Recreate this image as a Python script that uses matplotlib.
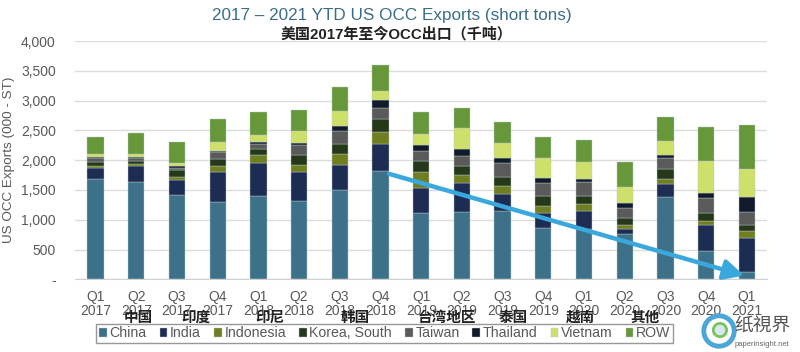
import numpy as np
import matplotlib
matplotlib.use('Agg')
import matplotlib.pyplot as plt

plt.rcParams['font.family'] = ['Liberation Sans', 'Noto Sans CJK SC', 'DejaVu Sans']

############### dados
quarters = ['Q1\n2017', 'Q2\n2017', 'Q3\n2017', 'Q4\n2017',
            'Q1\n2018', 'Q2\n2018', 'Q3\n2018', 'Q4\n2018',
            'Q1\n2019', 'Q2\n2019', 'Q3\n2019', 'Q4\n2019',
            'Q1\n2020', 'Q2\n2020', 'Q3\n2020', 'Q4\n2020',
            'Q1\n2021']

china     = [1688, 1632, 1414, 1297, 1398, 1314, 1498, 1822, 1107, 1129, 1150,  855,  839,  755, 1386,  481,  117]
india     = [ 185,  263,  252,  503,  547,  486,  414,  442,  419,  492,  290,  263,  307,   89,  207,  425,  582]
indonesia = [  33,   34,   56,  101,  134,  123,  184,  207,  280,  134,  131,  112,  117,   62,   90,   72,  112]
korea     = [  67,   50,  112,  117,  112,  156,  168,  212,  178,  151,  140,  173,  135,  117,  162,  129,   95]
taiwan    = [  62,   50,   39,  117,   73,  174,  224,  185,  174,  162,  246,  218,  229,  179,  184,  263,  229]
thailand  = [  22,   28,   33,   23,   45,   39,   89,  134,   89,  112,   72,   84,   50,   73,   56,   83,  251]
vietnam   = [  39,   45,   51,  139,  111,  190,  246,  156,  190,  352,  263,  335,  296,  268,  240,  531,  459]
row       = [ 297,  346,  352,  397,  392,  358,  397,  436,  375,  341,  352,  353,  364,  430,  392,  576,  743]

series = ['China', 'India', 'Indonesia', 'Korea, South', 'Taiwan', 'Thailand', 'Vietnam', 'ROW']
nomes_cn = ['中国', '印度', '印尼', '韩国', '台湾地区', '泰国', '越南', '其他']
cores = ['#3d7189', '#1d2c52', '#6f7e20', '#25391a', '#5a5a5a', '#111b2c', '#cfe06a', '#66983a']
valores = [china, india, indonesia, korea, taiwan, thailand, vietnam, row]

fig = plt.figure(figsize=(8, 3.52), dpi=100)
ax = fig.add_axes([0.094, 0.2065, 0.865, 0.677])

x = np.arange(len(quarters))
base = np.zeros(len(quarters))
for v, c, n in zip(valores, cores, series):
    v = np.array(v)
    ax.bar(x, v, 0.4, bottom=base, color=c, label=n, edgecolor='#b8c8c8', linewidth=0.3, zorder=2)
    base = base + v

ax.set_xlim(-0.5, 16.5)
ax.set_ylim(0, 4000)
ax.set_yticks(range(0, 4001, 500))
ax.set_yticklabels(['-'] + ['{:,}'.format(t) for t in range(500, 4001, 500)])
ax.set_xticks(x)
ax.set_xticklabels(quarters, linespacing=1.0)
ax.tick_params(axis='both', length=0, colors='#595959', labelsize=10)
ax.tick_params(axis='y', pad=14)
ax.tick_params(axis='x', pad=8)
ax.grid(axis='y', color='#dcdcdc', linewidth=1, zorder=0)
for s in ['left', 'right', 'top']:
    ax.spines[s].set_visible(False)
ax.spines['bottom'].set_color('#d0d0d0')
ax.set_ylabel('US OCC Exports (000 - ST)', color='#595959', fontsize=9.7, labelpad=4)

# seta de tendencia
ax.annotate('', xy=(16.0, 50), xytext=(7.15, china[7] - 40),
            arrowprops=dict(arrowstyle='-|>,head_length=1.2,head_width=0.6',
                            color='#3aa8dc', lw=3.2), zorder=5)

fig.text(0.49, 0.955, '2017 – 2021 YTD US OCC Exports (short tons)', ha='center', va='center',
         fontsize=12.3, color='#3b6e86')
fig.text(0.495, 0.903, '美国2017年至今OCC出口（千吨）', ha='center', va='center',
         fontsize=10.8, fontweight='bold', color='#222222')

leg = fig.legend(loc='center', bbox_to_anchor=(0.481, 0.0526), ncol=8, fontsize=10.2,
                 frameon=True, handlelength=0.55, handleheight=0.55, handletextpad=0.2,
                 columnspacing=0.9, borderpad=0.2, labelcolor='#595959')
leg.get_frame().set_edgecolor('#7f7f7f')
leg.get_frame().set_linewidth(1)
leg.get_frame().set_boxstyle('square', pad=0)

pos_cn = [138, 196, 270, 355, 447, 513, 580, 645]
for px, n in zip(pos_cn, nomes_cn):
    fig.text(px / 800, 1 - 318 / 352, n, ha='center', va='center',
             fontsize=10.5, fontweight='bold', color='#222222', zorder=6)

# marca d'agua
fig.text(762 / 800, 1 - 325 / 352, '纸視界', ha='center', va='center', fontsize=13.5, color='#555555',
         family=['Noto Sans CJK TC', 'DejaVu Sans'])
fig.text(762 / 800, 1 - 345 / 352, 'paperinsight.net', ha='center', va='center', fontsize=5.5, color='#666666')
logo = fig.add_axes([700 / 800, 1 - 350 / 352, 38 / 800, 38 / 352])
logo.set_aspect('equal')
logo.set_xlim(-1, 1)
logo.set_ylim(-1, 1)
logo.axis('off')
logo.add_patch(plt.Circle((0, 0), 0.8, facecolor='none', edgecolor='#4aa7d8', linewidth=3.5))
logo.add_patch(plt.Circle((0.05, 0.05), 0.35, facecolor='#d6eaf6', edgecolor='#7bc35a', linewidth=2))

fig.savefig('out.png', dpi=100)
